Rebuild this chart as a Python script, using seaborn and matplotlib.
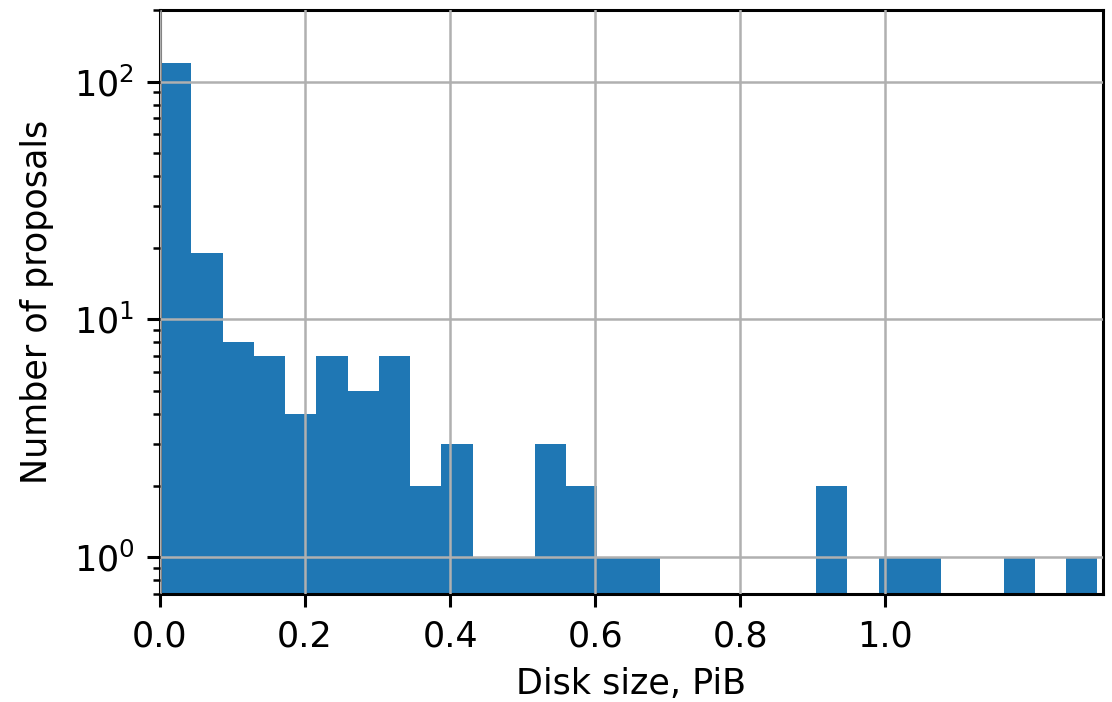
import numpy as np
import pandas as pd
import matplotlib
matplotlib.use("Agg")
import matplotlib.pyplot as plt
import seaborn as sns

# Histogram counts per bin (30 equal bins from 0 to the largest disk size)
counts = [120, 19, 8, 7, 4, 7, 5, 7, 2, 3,
          1, 1, 3, 2, 1, 1, 0, 0, 0, 0,
          0, 2, 0, 1, 1, 0, 0, 1, 0, 1]
size_max = 1.2924  # PiB
x_ticks = [0.0, 0.2, 0.4, 0.6, 0.8, 1.0]

edges = np.linspace(0, size_max, len(counts) + 1)
df = pd.DataFrame({'size': (edges[:-1] + edges[1:]) / 2, 'count': counts})

plt.rcParams['font.family'] = ['DejaVu Sans']
plt.rcParams['font.size'] = 12.6
plt.rcParams['axes.linewidth'] = 1.1

fig, ax = plt.subplots(figsize=(5.56, 3.51), dpi=200)
fig.subplots_adjust(left=0.1439, right=0.9919, top=0.9858, bottom=0.1538)

sns.histplot(data=df, x='size', weights='count', bins=list(edges), ax=ax,
             color='#1f77b4', alpha=1, linewidth=0)

ax.set_yscale('log')
ax.set_xlim(0, 1.3)
ax.set_ylim(0.7, 200)
ax.set_xticks(x_ticks)
ax.set_xticklabels([f'{t:.1f}' for t in x_ticks])

ax.grid(True, color='#b0b0b0', linewidth=0.9)
ax.set_axisbelow(False)

ax.set_xlabel('Disk size, PiB', labelpad=5)
ax.set_ylabel('Number of proposals', labelpad=7)
ax.tick_params(axis='both', which='major', labelsize=12.6,
               length=4.7, width=1.1, pad=4.5)
ax.tick_params(axis='both', which='minor', length=2.4, width=0.9)

fig.savefig('out.png', dpi=200)
